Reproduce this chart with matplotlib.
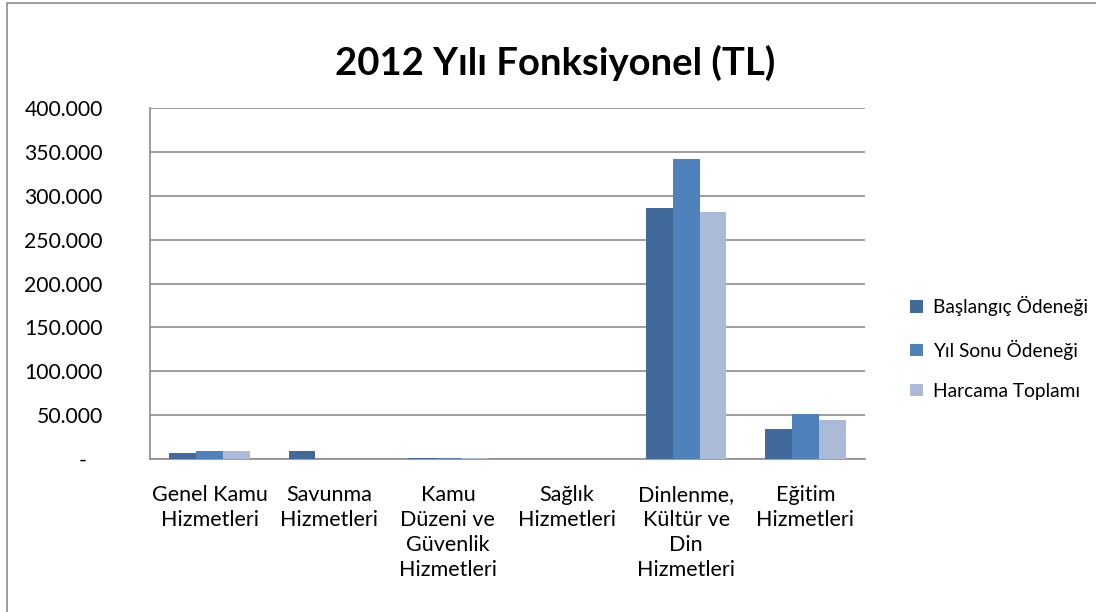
import numpy as np
import matplotlib.pyplot as plt
from matplotlib.patches import Rectangle

plt.rcParams['font.family'] = ['Lato', 'DejaVu Sans']

kategoriler = ['Genel Kamu\nHizmetleri', 'Savunma\nHizmetleri',
               'Kamu\nDüzeni ve\nGüvenlik\nHizmetleri', 'Sağlık\nHizmetleri',
               'Dinlenme,\nKültür ve\nDin\nHizmetleri', 'Eğitim\nHizmetleri']
baslangic = [7200, 9500, 900, 0, 285500, 33800]
yil_sonu = [9500, 0, 900, 0, 341500, 51300]
harcama = [9500, 0, 600, 0, 281500, 44500]
seriler = ['Başlangıç Ödeneği', 'Yıl Sonu Ödeneği', 'Harcama Toplamı']
renkler = ['#41699A', '#4F81BD', '#AABAD7']
y_ticks = [0, 50000, 100000, 150000, 200000, 250000, 300000, 350000, 400000]

fig = plt.figure(figsize=(10.96, 6.12), dpi=100)
fig.patches.append(Rectangle((7 / 1096, -0.01), 1.02, 1 - 3 / 612 + 0.01,
                             transform=fig.transFigure, fill=False,
                             edgecolor='#8C8C8C', linewidth=1.2))
ax = fig.add_axes([150 / 1096, 1 - 459 / 612, 715 / 1096, 351 / 612])

x = np.arange(len(kategoriler))
w = 0.225
for i, (vals, lab) in enumerate(zip([baslangic, yil_sonu, harcama], seriler)):
    ax.bar(x + (i - 1) * w, vals, w, color=renkler[i], label=lab, zorder=3)

ax.set_xlim(-0.5, len(kategoriler) - 0.5)
ax.set_ylim(0, 400000)
ax.set_yticks(y_ticks)
ax.set_yticklabels(['-   '] + ['{:,}'.format(v).replace(',', '.') for v in y_ticks[1:]],
                   fontsize=15.2)
ax.set_xticks(x)
ax.set_xticklabels(kategoriler, fontsize=15.5, linespacing=1.3, va='top')
ax.tick_params(axis='y', length=0, pad=34)
ax.tick_params(axis='x', length=0, pad=19)
ax.yaxis.grid(True, color='#8C8C8C', linewidth=1.2, zorder=0)
for s in ['top', 'right']:
    ax.spines[s].set_visible(False)
for s in ['left', 'bottom']:
    ax.spines[s].set_color('#8C8C8C')
    ax.spines[s].set_linewidth(1.2)

fig.text(555 / 1096, 1 - 63 / 612, '2012 Yılı Fonksiyonel (TL)', fontsize=27.5,
         fontweight='bold', ha='center', va='center')

ax.legend(loc='center left', bbox_to_anchor=(893 / 1096, 1 - 348 / 612),
          bbox_transform=fig.transFigure, frameon=False, fontsize=13.8,
          handlelength=0.65, handleheight=0.65, labelspacing=1.2, handletextpad=0.55)

fig.savefig('out.png', dpi=100)
